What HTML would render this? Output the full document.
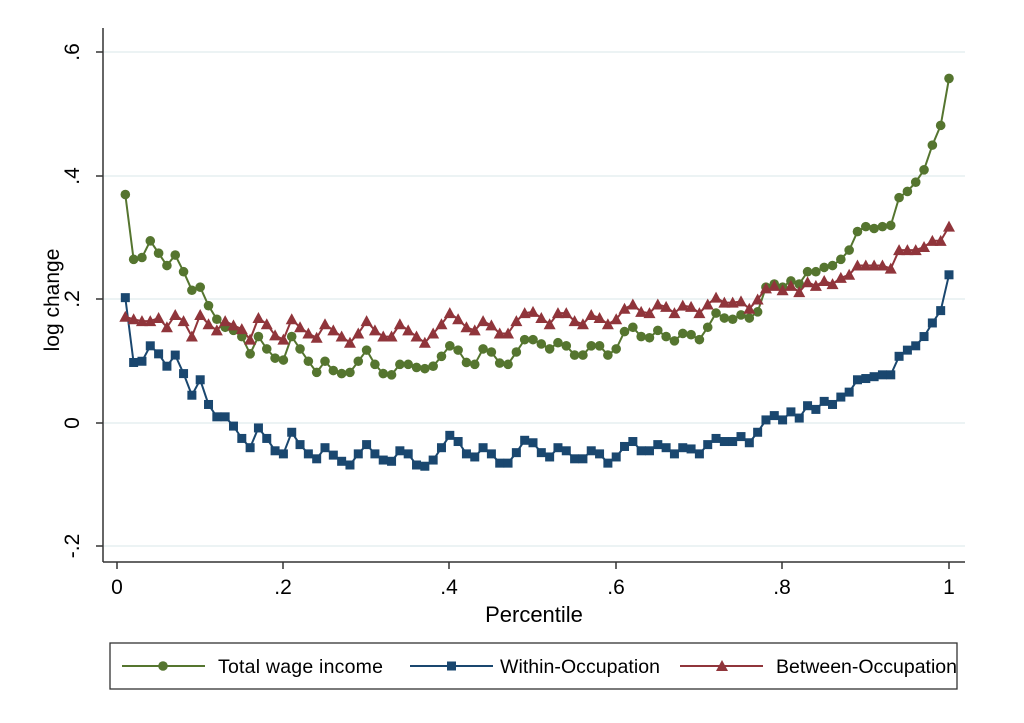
<!DOCTYPE html>
<html><head><meta charset="utf-8"><style>
body{margin:0;background:#fff;}
svg text{font-family:"Liberation Sans",Arial,sans-serif;fill:#000;}
</style></head><body>
<svg id="s" width="1024" height="718" xmlns="http://www.w3.org/2000/svg">
<rect width="1024" height="718" fill="#fff"/>
<g stroke="#e6eff0" stroke-width="1.5">
<line x1="104" y1="52" x2="965" y2="52"/>
<line x1="104" y1="176" x2="965" y2="176"/>
<line x1="104" y1="299" x2="965" y2="299"/>
<line x1="104" y1="423" x2="965" y2="423"/>
<line x1="104" y1="546" x2="965" y2="546"/>
</g>
<g stroke="#333" stroke-width="1.5">
<line x1="103" y1="28" x2="103" y2="562"/>
<line x1="103" y1="562" x2="965" y2="562"/>
<line x1="96" y1="52" x2="103" y2="52"/>
<line x1="96" y1="176" x2="103" y2="176"/>
<line x1="96" y1="299" x2="103" y2="299"/>
<line x1="96" y1="423" x2="103" y2="423"/>
<line x1="96" y1="546" x2="103" y2="546"/>
<line x1="117" y1="562" x2="117" y2="569"/>
<line x1="283" y1="562" x2="283" y2="569"/>
<line x1="449" y1="562" x2="449" y2="569"/>
<line x1="616" y1="562" x2="616" y2="569"/>
<line x1="782" y1="562" x2="782" y2="569"/>
<line x1="949" y1="562" x2="949" y2="569"/>
</g>
<g font-size="21" text-anchor="middle">
<text transform="translate(79,52) rotate(-90)">.6</text>
<text transform="translate(79,176) rotate(-90)">.4</text>
<text transform="translate(79,299) rotate(-90)">.2</text>
<text transform="translate(79,423) rotate(-90)">0</text>
<text transform="translate(79,546) rotate(-90)">-.2</text>
<text x="117" y="594">0</text>
<text x="283" y="594">.2</text>
<text x="449" y="594">.4</text>
<text x="616" y="594">.6</text>
<text x="782" y="594">.8</text>
<text x="949" y="594">1</text>
<text x="534" y="622" font-size="22">Percentile</text>
<text transform="translate(59,300) rotate(-90)" font-size="21">log change</text>
</g>
<g id="series"></g>
<rect x="110" y="643" width="847" height="46" fill="none" stroke="#333" stroke-width="1.3"/>
<g stroke-width="2">
<line x1="122" y1="666" x2="205" y2="666" stroke="#55752f"/>
<circle cx="163" cy="666" r="4.8" fill="#55752f"/>
<line x1="410" y1="666" x2="493" y2="666" stroke="#1a476f"/>
<rect x="447" y="661.5" width="9" height="9" fill="#1a476f"/>
<line x1="680" y1="666" x2="763" y2="666" stroke="#90353b"/>
<polygon points="722,660 728,671 716,671" fill="#90353b"/>
</g>
<g font-size="19.5">
<text x="218" y="673" textLength="165">Total wage income</text>
<text x="500" y="673" textLength="160">Within-Occupation</text>
<text x="776" y="673" textLength="181">Between-Occupation</text>
</g>
</svg>
<script>
var G=[.37,.265,.268,.295,.275,.255,.272,.245,.215,.22,.19,.168,.155,.15,.14,.112,.14,.12,.105,.102,.14,.12,.1,.082,.1,.085,.08,.082,.1,.118,.095,.08,.078,.095,.095,.09,.088,.092,.108,.125,.118,.098,.095,.12,.115,.097,.095,.115,.135,.135,.128,.12,.13,.125,.11,.11,.125,.125,.11,.12,.148,.155,.14,.138,.15,.14,.133,.145,.143,.135,.155,.178,.17,.168,.175,.17,.18,.22,.225,.22,.23,.225,.245,.245,.252,.255,.265,.28,.31,.318,.315,.318,.32,.365,.375,.39,.41,.45,.482,.558];
var R=[.172,.168,.165,.165,.17,.155,.175,.165,.14,.175,.16,.15,.165,.158,.152,.135,.17,.16,.142,.135,.168,.155,.145,.138,.16,.15,.14,.13,.145,.165,.15,.14,.14,.16,.15,.14,.13,.145,.16,.178,.168,.155,.15,.165,.158,.145,.145,.165,.178,.18,.17,.16,.178,.178,.165,.16,.175,.17,.16,.168,.185,.192,.18,.178,.192,.188,.178,.19,.188,.178,.192,.203,.195,.195,.197,.185,.2,.218,.222,.215,.222,.212,.228,.222,.23,.225,.235,.24,.255,.255,.255,.255,.25,.28,.28,.28,.285,.295,.295,.318];
var B=[.203,.098,.1,.125,.112,.092,.11,.08,.045,.07,.03,.01,.01,-.005,-.025,-.04,-.008,-.025,-.045,-.05,-.015,-.035,-.05,-.058,-.04,-.052,-.062,-.068,-.05,-.035,-.05,-.06,-.062,-.045,-.05,-.068,-.07,-.06,-.04,-.02,-.03,-.05,-.055,-.04,-.05,-.065,-.065,-.048,-.028,-.032,-.048,-.055,-.04,-.045,-.058,-.058,-.045,-.05,-.065,-.055,-.038,-.03,-.045,-.045,-.035,-.04,-.05,-.04,-.042,-.05,-.035,-.025,-.03,-.03,-.022,-.032,-.015,.005,.012,.005,.018,.008,.028,.022,.035,.03,.042,.05,.07,.072,.075,.078,.078,.108,.118,.125,.14,.162,.182,.24];
function X(i){return 117+(i+1)/100*832;}
function Y(v){return 423-v*617.5;}
var h='';
function line(d,c){var p=d.map(function(v,i){return X(i).toFixed(1)+','+Y(v).toFixed(1)}).join(' ');h+='<polyline points="'+p+'" fill="none" stroke="'+c+'" stroke-width="2"/>';}
line(G,'#55752f');line(B,'#1a476f');line(R,'#90353b');
G.forEach(function(v,i){h+='<circle cx="'+X(i)+'" cy="'+Y(v)+'" r="4.8" fill="#55752f"/>';});
B.forEach(function(v,i){h+='<rect x="'+(X(i)-4.5)+'" y="'+(Y(v)-4.5)+'" width="9" height="9" fill="#1a476f"/>';});
R.forEach(function(v,i){var x=X(i),y=Y(v);h+='<polygon points="'+x+','+(y-6)+' '+(x+6)+','+(y+5)+' '+(x-6)+','+(y+5)+'" fill="#90353b"/>';});
document.getElementById('series').innerHTML=h;
</script>
</body></html>
